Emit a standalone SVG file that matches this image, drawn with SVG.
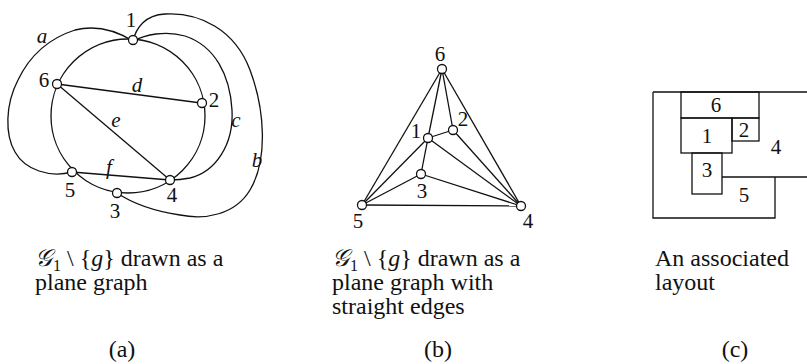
<svg xmlns="http://www.w3.org/2000/svg" width="807" height="364" viewBox="0 0 807 364">
<style>
.ln{fill:none;stroke:#111;stroke-width:1.3}
.nd{fill:#fff;stroke:#111;stroke-width:1.3}
.t{font-family:"Liberation Serif","Times New Roman",serif;fill:#111}
.num{font-size:21px;text-anchor:middle}
.it{font-style:italic;font-size:21px;text-anchor:middle}
.cap{font-size:24px}
.scr{font-family:"DejaVu Serif","DejaVu Sans","Noto Sans",serif;font-style:italic}
</style>
<rect width="807" height="364" fill="#fff"/>

<!-- (a) -->
<g id="connectors-a">
<circle class="ln" cx="128" cy="116" r="77"/>
<line class="ln" x1="57" y1="84" x2="201" y2="103"/>
<line class="ln" x1="57" y1="84" x2="170" y2="180"/>
<line class="ln" x1="72" y1="172" x2="170" y2="180"/>
<path class="ln" d="M133,41 C115,30 95,25 75,30 C50,38 30,55 18,80 C5,105 5,135 15,152 C25,170 50,178 72,172"/>
<path class="ln" d="M133,41 C145,35 165,30 185,36 C215,46 230,75 232,110 C234,145 215,172 190,178 C180,180 175,180 170,180"/>
<path class="ln" d="M133,41 C136,28 145,15 165,14 C200,12 235,30 250,70 C265,110 268,160 250,190 C235,215 205,220 180,215 C160,212 135,205 117,193"/>
</g>
<g id="a-node1"><circle class="nd" cx="133" cy="40" r="4.5"/><text class="t num" x="131" y="27">1</text></g>
<g id="a-node2"><circle class="nd" cx="202" cy="103" r="4.5"/><text class="t num" x="214" y="107">2</text></g>
<g id="a-node3"><circle class="nd" cx="117" cy="193" r="4.5"/><text class="t num" x="115" y="218">3</text></g>
<g id="a-node4"><circle class="nd" cx="170" cy="180" r="4.5"/><text class="t num" x="172" y="202">4</text></g>
<g id="a-node5"><circle class="nd" cx="72" cy="172" r="4.5"/><text class="t num" x="70" y="197">5</text></g>
<g id="a-node6"><circle class="nd" cx="57" cy="84" r="4.5"/><text class="t num" x="44" y="87">6</text></g>
<g id="a-edge-labels">
<text class="t it" x="42" y="43">a</text>
<text class="t it" x="257" y="167">b</text>
<text class="t it" x="236" y="127">c</text>
<text class="t it" x="137" y="92">d</text>
<text class="t it" x="116" y="127">e</text>
<text class="t it" x="109" y="174">f</text>
</g>

<!-- (b) -->
<g id="connectors-b">
<line class="ln" x1="442" y1="69" x2="362" y2="205"/>
<line class="ln" x1="442" y1="69" x2="521" y2="206"/>
<line class="ln" x1="362" y1="205" x2="521" y2="206"/>
<line class="ln" x1="442" y1="69" x2="428" y2="138"/>
<line class="ln" x1="442" y1="69" x2="453" y2="130"/>
<line class="ln" x1="428" y1="138" x2="453" y2="130"/>
<line class="ln" x1="428" y1="138" x2="421" y2="174"/>
<line class="ln" x1="428" y1="138" x2="362" y2="205"/>
<line class="ln" x1="428" y1="138" x2="521" y2="206"/>
<line class="ln" x1="453" y1="130" x2="521" y2="206"/>
<line class="ln" x1="421" y1="174" x2="362" y2="205"/>
<line class="ln" x1="421" y1="174" x2="521" y2="206"/>
</g>
<g id="b-node6"><circle class="nd" cx="442" cy="69" r="4.5"/><text class="t num" x="440" y="61">6</text></g>
<g id="b-node2"><circle class="nd" cx="453" cy="130" r="4.5"/><text class="t num" x="463" y="126">2</text></g>
<g id="b-node1"><circle class="nd" cx="428" cy="138" r="4.5"/><text class="t num" x="416" y="138">1</text></g>
<g id="b-node3"><circle class="nd" cx="421" cy="174" r="4.5"/><text class="t num" x="422" y="198">3</text></g>
<g id="b-node5"><circle class="nd" cx="362" cy="205" r="4.5"/><text class="t num" x="358" y="228">5</text></g>
<g id="b-node4"><circle class="nd" cx="521" cy="206" r="4.5"/><text class="t num" x="528" y="228">4</text></g>

<!-- (c) layout -->
<g id="layout-c">
<path class="ln" d="M653,92 H807 M653,92 V218 H775 V177 M722,177 H807"/>
<rect class="ln" x="681" y="92" width="78" height="26"/>
<rect class="ln" x="681" y="118" width="51" height="35"/>
<rect class="ln" x="732" y="118" width="27" height="23"/>
<rect class="ln" x="692" y="153" width="30" height="41"/>
<text class="t num" x="716" y="112">6</text>
<text class="t num" x="707" y="143">1</text>
<text class="t num" x="744" y="137">2</text>
<text class="t num" x="776" y="154">4</text>
<text class="t num" x="707" y="177">3</text>
<text class="t num" x="744" y="202">5</text>
</g>

<!-- captions -->
<g id="caption-a" class="t cap">
<text x="35" y="266"><tspan class="scr">𝒢</tspan><tspan font-size="16" dx="1" dy="5">1</tspan><tspan dy="-5"> \ {</tspan><tspan font-style="italic">g</tspan><tspan>} drawn as a</tspan></text>
<text x="35" y="290">plane graph</text>
<text x="122" y="357" text-anchor="middle">(a)</text>
</g>
<g id="caption-b" class="t cap">
<text x="332" y="266"><tspan class="scr">𝒢</tspan><tspan font-size="16" dx="1" dy="5">1</tspan><tspan dy="-5"> \ {</tspan><tspan font-style="italic">g</tspan><tspan>} drawn as a</tspan></text>
<text x="332" y="290">plane graph with</text>
<text x="332" y="314">straight edges</text>
<text x="438" y="357" text-anchor="middle">(b)</text>
</g>
<g id="caption-c" class="t cap">
<text x="655" y="266">An associated</text>
<text x="655" y="290">layout</text>
<text x="735" y="357" text-anchor="middle">(c)</text>
</g>
</svg>
